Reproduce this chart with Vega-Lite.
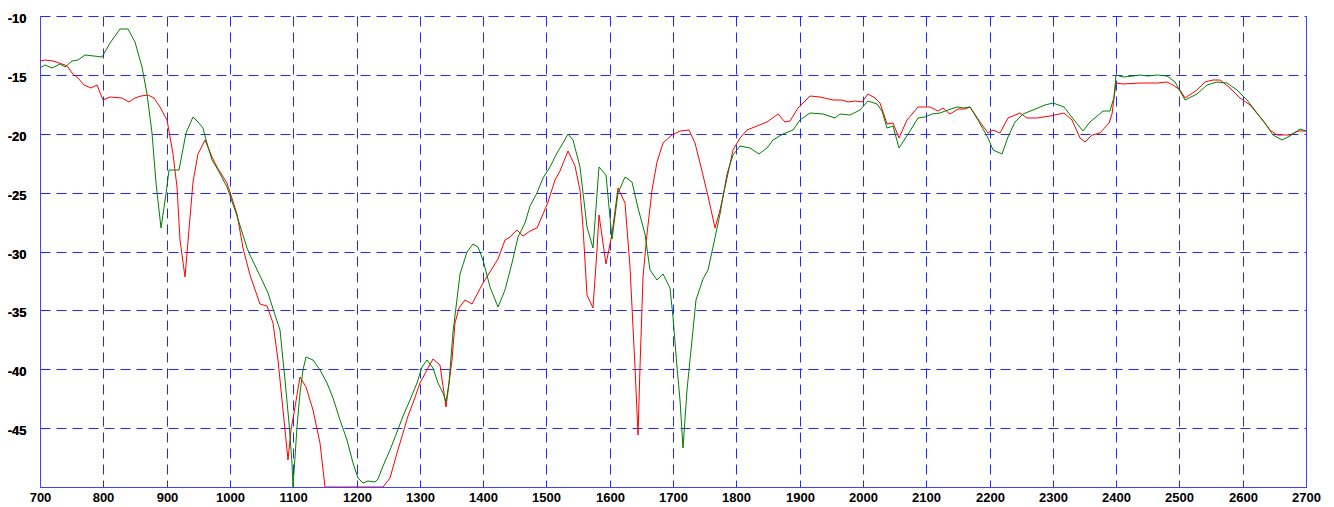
{
  "$schema": "https://vega.github.io/schema/vega-lite/v6.json",
  "width": 1266,
  "height": 471,
  "autosize": "none",
  "padding": {"left": 40, "top": 16, "right": 28, "bottom": 20},
  "background": "white",
  "config": {
    "view": {"stroke": null},
    "axis": {
      "grid": true,
      "gridColor": "#2525ff",
      "gridDash": [10, 6],
      "gridOpacity": 1,
      "gridWidth": 1,
      "gridCap": "butt",
      "domainColor": "#4040ff",
      "domainWidth": 1,
      "ticks": false,
      "labelFont": "Arial",
      "labelFontWeight": "bold",
      "labelFontSize": 13,
      "labelColor": "#000000",
      "title": null
    }
  },
  "datasets": {
    "red": [
      {"x":700,"y":-13.8},{"x":708,"y":-13.7},{"x":720,"y":-13.8},{"x":730,"y":-14.0},{"x":739,"y":-14.2},{"x":744,"y":-14.3},{"x":750,"y":-14.8},{"x":760,"y":-15.3},{"x":770,"y":-15.9},{"x":780,"y":-16.1},{"x":790,"y":-15.9},{"x":800,"y":-17.1},{"x":810,"y":-16.9},{"x":830,"y":-17.0},{"x":840,"y":-17.3},{"x":850,"y":-17.0},{"x":860,"y":-16.8},{"x":870,"y":-16.7},{"x":880,"y":-17.0},{"x":890,"y":-17.7},{"x":900,"y":-18.8},{"x":910,"y":-21.7},{"x":916,"y":-24.5},{"x":921,"y":-29.0},{"x":929,"y":-32.2},{"x":941,"y":-24.1},{"x":950,"y":-21.7},{"x":961,"y":-20.5},{"x":971,"y":-22.0},{"x":979,"y":-22.8},{"x":995,"y":-24.2},{"x":1011,"y":-26.8},{"x":1021,"y":-29.7},{"x":1032,"y":-32.0},{"x":1048,"y":-34.5},{"x":1058,"y":-34.6},{"x":1068,"y":-36.1},{"x":1076,"y":-39.2},{"x":1084,"y":-43.5},{"x":1091,"y":-47.7},{"x":1096,"y":-45.2},{"x":1103,"y":-43.2},{"x":1111,"y":-40.7},{"x":1121,"y":-41.5},{"x":1131,"y":-43.5},{"x":1142,"y":-46.3},{"x":1151,"y":-50},{"x":1242,"y":-50},{"x":1253,"y":-49.2},{"x":1264,"y":-47.1},{"x":1274,"y":-45.4},{"x":1281,"y":-44.0},{"x":1289,"y":-42.9},{"x":1300,"y":-41.2},{"x":1311,"y":-40.1},{"x":1321,"y":-39.1},{"x":1332,"y":-39.6},{"x":1341,"y":-43.2},{"x":1351,"y":-39.2},{"x":1356,"y":-36.1},{"x":1362,"y":-34.8},{"x":1371,"y":-34.1},{"x":1382,"y":-34.5},{"x":1400,"y":-32.7},{"x":1416,"y":-31.3},{"x":1424,"y":-30.6},{"x":1435,"y":-29.0},{"x":1442,"y":-28.8},{"x":1453,"y":-28.2},{"x":1463,"y":-28.7},{"x":1474,"y":-28.3},{"x":1485,"y":-28.0},{"x":1495,"y":-26.8},{"x":1503,"y":-25.8},{"x":1514,"y":-23.9},{"x":1522,"y":-23.2},{"x":1534,"y":-21.5},{"x":1545,"y":-22.7},{"x":1553,"y":-24.8},{"x":1558,"y":-27.9},{"x":1564,"y":-33.7},{"x":1573,"y":-34.8},{"x":1580,"y":-29.9},{"x":1583,"y":-26.9},{"x":1594,"y":-31.1},{"x":1603,"y":-28.5},{"x":1613,"y":-24.6},{"x":1624,"y":-25.9},{"x":1632,"y":-31.3},{"x":1640,"y":-39.8},{"x":1645,"y":-45.6},{"x":1648,"y":-39.8},{"x":1653,"y":-32.2},{"x":1659,"y":-28.5},{"x":1667,"y":-24.8},{"x":1675,"y":-22.4},{"x":1684,"y":-20.8},{"x":1698,"y":-20.1},{"x":1711,"y":-19.8},{"x":1725,"y":-19.7},{"x":1735,"y":-20.8},{"x":1745,"y":-22.8},{"x":1755,"y":-25.3},{"x":1766,"y":-28.0},{"x":1774,"y":-26.5},{"x":1785,"y":-23.8},{"x":1795,"y":-21.4},{"x":1806,"y":-20.4},{"x":1817,"y":-19.7},{"x":1833,"y":-19.3},{"x":1848,"y":-19.0},{"x":1866,"y":-18.3},{"x":1877,"y":-19.0},{"x":1885,"y":-18.9},{"x":1898,"y":-17.8},{"x":1916,"y":-16.8},{"x":1932,"y":-16.9},{"x":1953,"y":-17.1},{"x":1967,"y":-17.1},{"x":1977,"y":-17.3},{"x":1988,"y":-17.2},{"x":1998,"y":-17.3},{"x":2008,"y":-16.6},{"x":2019,"y":-17.0},{"x":2027,"y":-17.4},{"x":2038,"y":-19.2},{"x":2048,"y":-19.1},{"x":2057,"y":-20.4},{"x":2069,"y":-18.8},{"x":2087,"y":-17.7},{"x":2106,"y":-17.7},{"x":2119,"y":-18.1},{"x":2127,"y":-17.8},{"x":2138,"y":-18.3},{"x":2151,"y":-17.9},{"x":2161,"y":-17.9},{"x":2169,"y":-17.7},{"x":2185,"y":-19.0},{"x":2198,"y":-19.9},{"x":2206,"y":-19.7},{"x":2217,"y":-19.9},{"x":2229,"y":-18.7},{"x":2248,"y":-18.2},{"x":2259,"y":-18.7},{"x":2275,"y":-18.7},{"x":2296,"y":-18.5},{"x":2317,"y":-18.2},{"x":2330,"y":-18.8},{"x":2343,"y":-20.4},{"x":2351,"y":-20.7},{"x":2362,"y":-20.1},{"x":2375,"y":-19.9},{"x":2388,"y":-19.1},{"x":2393,"y":-18.3},{"x":2400,"y":-15.7},{"x":2411,"y":-15.8},{"x":2438,"y":-15.7},{"x":2465,"y":-15.7},{"x":2480,"y":-15.6},{"x":2490,"y":-15.9},{"x":2501,"y":-16.3},{"x":2509,"y":-17.0},{"x":2528,"y":-16.3},{"x":2540,"y":-15.6},{"x":2553,"y":-15.4},{"x":2564,"y":-15.4},{"x":2580,"y":-16.1},{"x":2596,"y":-17.0},{"x":2612,"y":-17.6},{"x":2627,"y":-18.6},{"x":2643,"y":-19.7},{"x":2654,"y":-20.1},{"x":2675,"y":-20.1},{"x":2688,"y":-19.8},{"x":2700,"y":-19.8}
    ],
    "green": [
      {"x":700,"y":-14.4},{"x":708,"y":-14.2},{"x":719,"y":-14.4},{"x":732,"y":-14.1},{"x":739,"y":-14.3},{"x":750,"y":-13.8},{"x":760,"y":-13.7},{"x":771,"y":-13.3},{"x":785,"y":-13.4},{"x":798,"y":-13.5},{"x":811,"y":-12.3},{"x":826,"y":-11.1},{"x":839,"y":-11.1},{"x":850,"y":-12.2},{"x":861,"y":-14.3},{"x":869,"y":-16.6},{"x":877,"y":-19.9},{"x":883,"y":-24.2},{"x":891,"y":-28.0},{"x":899,"y":-25.1},{"x":904,"y":-23.1},{"x":920,"y":-23.1},{"x":931,"y":-19.9},{"x":941,"y":-18.6},{"x":950,"y":-19.0},{"x":958,"y":-19.5},{"x":963,"y":-20.5},{"x":971,"y":-22.2},{"x":981,"y":-23.1},{"x":995,"y":-24.5},{"x":1011,"y":-27.0},{"x":1027,"y":-29.7},{"x":1032,"y":-30.3},{"x":1051,"y":-32.4},{"x":1060,"y":-33.5},{"x":1071,"y":-35.4},{"x":1079,"y":-36.7},{"x":1087,"y":-40.9},{"x":1094,"y":-44.6},{"x":1098,"y":-48.0},{"x":1100,"y":-50},{"x":1106,"y":-44.9},{"x":1111,"y":-42.0},{"x":1116,"y":-40.1},{"x":1121,"y":-39.0},{"x":1131,"y":-39.2},{"x":1142,"y":-40.1},{"x":1153,"y":-41.2},{"x":1163,"y":-42.4},{"x":1174,"y":-44.3},{"x":1185,"y":-46.0},{"x":1194,"y":-48.0},{"x":1202,"y":-49.2},{"x":1210,"y":-49.7},{"x":1218,"y":-49.5},{"x":1229,"y":-49.6},{"x":1234,"y":-49.3},{"x":1242,"y":-48.2},{"x":1253,"y":-46.9},{"x":1264,"y":-45.3},{"x":1274,"y":-44.0},{"x":1285,"y":-42.6},{"x":1295,"y":-41.2},{"x":1303,"y":-39.8},{"x":1311,"y":-39.2},{"x":1321,"y":-39.9},{"x":1329,"y":-41.2},{"x":1337,"y":-42.0},{"x":1342,"y":-42.8},{"x":1346,"y":-41.2},{"x":1352,"y":-36.8},{"x":1363,"y":-31.9},{"x":1374,"y":-30.0},{"x":1384,"y":-29.4},{"x":1392,"y":-29.6},{"x":1400,"y":-30.7},{"x":1411,"y":-33.0},{"x":1424,"y":-34.7},{"x":1435,"y":-33.3},{"x":1445,"y":-31.0},{"x":1455,"y":-28.8},{"x":1466,"y":-27.6},{"x":1474,"y":-26.1},{"x":1485,"y":-25.0},{"x":1495,"y":-23.8},{"x":1506,"y":-22.8},{"x":1517,"y":-21.6},{"x":1526,"y":-20.8},{"x":1534,"y":-20.0},{"x":1542,"y":-20.5},{"x":1553,"y":-22.8},{"x":1564,"y":-27.9},{"x":1573,"y":-29.7},{"x":1583,"y":-22.8},{"x":1594,"y":-23.5},{"x":1603,"y":-28.9},{"x":1613,"y":-25.0},{"x":1624,"y":-23.7},{"x":1635,"y":-24.1},{"x":1645,"y":-26.3},{"x":1656,"y":-28.5},{"x":1664,"y":-31.6},{"x":1675,"y":-32.4},{"x":1684,"y":-31.9},{"x":1695,"y":-33.1},{"x":1700,"y":-35.6},{"x":1706,"y":-39.8},{"x":1711,"y":-42.6},{"x":1716,"y":-46.7},{"x":1722,"y":-41.8},{"x":1730,"y":-37.5},{"x":1737,"y":-34.1},{"x":1748,"y":-32.3},{"x":1755,"y":-31.6},{"x":1763,"y":-29.6},{"x":1774,"y":-26.8},{"x":1785,"y":-23.4},{"x":1795,"y":-21.8},{"x":1806,"y":-21.0},{"x":1822,"y":-21.2},{"x":1836,"y":-21.7},{"x":1848,"y":-21.2},{"x":1858,"y":-20.5},{"x":1874,"y":-20.0},{"x":1890,"y":-19.7},{"x":1901,"y":-18.8},{"x":1916,"y":-18.2},{"x":1937,"y":-18.3},{"x":1956,"y":-18.7},{"x":1964,"y":-18.3},{"x":1980,"y":-18.4},{"x":1995,"y":-18.0},{"x":2008,"y":-17.2},{"x":2022,"y":-17.5},{"x":2030,"y":-18.1},{"x":2038,"y":-19.5},{"x":2048,"y":-19.3},{"x":2057,"y":-21.2},{"x":2074,"y":-19.8},{"x":2087,"y":-18.7},{"x":2098,"y":-18.6},{"x":2109,"y":-18.3},{"x":2122,"y":-18.2},{"x":2135,"y":-18.0},{"x":2148,"y":-17.7},{"x":2159,"y":-17.8},{"x":2169,"y":-17.7},{"x":2182,"y":-18.8},{"x":2198,"y":-20.4},{"x":2206,"y":-21.4},{"x":2220,"y":-21.7},{"x":2229,"y":-20.3},{"x":2240,"y":-19.0},{"x":2253,"y":-18.3},{"x":2269,"y":-18.0},{"x":2288,"y":-17.6},{"x":2301,"y":-17.4},{"x":2317,"y":-17.7},{"x":2333,"y":-18.8},{"x":2348,"y":-19.8},{"x":2359,"y":-19.0},{"x":2369,"y":-18.6},{"x":2380,"y":-18.1},{"x":2391,"y":-18.1},{"x":2397,"y":-16.9},{"x":2400,"y":-15.0},{"x":2411,"y":-15.2},{"x":2427,"y":-15.1},{"x":2438,"y":-15.0},{"x":2451,"y":-15.1},{"x":2465,"y":-15.0},{"x":2480,"y":-15.1},{"x":2493,"y":-15.6},{"x":2509,"y":-17.1},{"x":2528,"y":-16.6},{"x":2543,"y":-15.9},{"x":2559,"y":-15.6},{"x":2575,"y":-15.7},{"x":2591,"y":-16.3},{"x":2607,"y":-17.1},{"x":2622,"y":-18.2},{"x":2635,"y":-19.1},{"x":2648,"y":-20.1},{"x":2662,"y":-20.5},{"x":2675,"y":-20.2},{"x":2691,"y":-19.6},{"x":2700,"y":-19.8}
    ]
  },
  "encoding": {
    "x": {
      "field": "x", "type": "quantitative",
      "scale": {"domain": [700, 2700], "nice": false, "zero": false, "round": true},
      "axis": {"orient": "bottom", "values": [700,800,900,1000,1100,1200,1300,1400,1500,1600,1700,1800,1900,2000,2100,2200,2300,2400,2500,2600,2700], "labelExpr": "'' + datum.value", "labelPadding": 4, "labelFlush": false}
    },
    "y": {
      "field": "y", "type": "quantitative",
      "scale": {"domain": [-50, -10], "nice": false, "zero": false, "round": true},
      "axis": {"orient": "left", "values": [-50,-45,-40,-35,-30,-25,-20,-15,-10], "labelExpr": "datum.value == -50 ? '' : '' + datum.value", "labelPadding": 14, "labelOffset": 2, "labelFlush": false}
    }
  },
  "layer": [
    {
      "data": {"name": "red"},
      "mark": {"type": "line", "color": "#ff0000", "strokeWidth": 1, "clip": true}
    },
    {
      "data": {"name": "green"},
      "mark": {"type": "line", "color": "#008000", "strokeWidth": 1, "clip": true}
    },
    {
      "data": {"values": [{"x": 2700, "y": -50}]},
      "mark": {"type": "point", "opacity": 0},
      "encoding": {
        "y": {
          "field": "y", "type": "quantitative",
          "axis": {"orient": "right", "grid": false, "labels": false, "ticks": false, "domainColor": "#4040ff"}
        }
      }
    }
  ],
  "resolve": {"axis": {"y": "independent"}}
}
